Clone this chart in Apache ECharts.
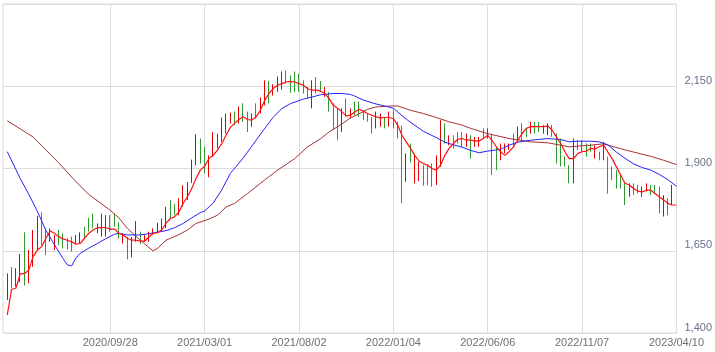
<!DOCTYPE html>
<html>
<head>
<meta charset="utf-8">
<script src="https://cdn.jsdelivr.net/npm/echarts@6/dist/echarts.min.js"></script>
<style>
  html, body { margin: 0; padding: 0; background: #fff; }
  #chart { width: 715px; height: 352px; }
</style>
</head>
<body>
<div id="chart"></div>
<script>
// weekly bars, 2020/04/13 .. 2023/04/10
const highs = [1581,1600,1597,1640,1706,1652,1713,1756,1767,1718,
  1718,1698,1713,1703,1688,1693,1698,1706,1723,1750,
  1763,1733,1763,1758,1758,1763,1736,1703,1692,1692,
  1740,1708,1698,1708,1718,1735,1748,1783,1804,1792,
  1809,1849,1859,1927,2004,1991,1966,1940,2011,2006,
  2055,2067,2070,2073,2088,2098,2073,2067,2098,2116,
  2168,2166,2156,2180,2195,2198,2183,2195,2188,2168,
  2148,2168,2178,2166,2148,2133,2098,2083,2083,2113,
  2083,2103,2103,2077,2067,2057,2073,2067,2057,2073,
  2077,2042,2030,1946,1976,1943,1920,1910,1912,1915,
  1940,2047,2037,2001,2001,2011,2011,2006,2001,1996,
  1996,2022,2022,2006,1966,1976,1976,1976,2006,2027,
  2037,2022,2042,2042,2042,2032,2037,2032,2006,1991,
  1936,1910,1991,1986,1986,1976,1976,1971,1951,1981,
  1936,1906,1895,1880,1855,1855,1855,1850,1845,1855,
  1850,1850,1845,1819,1809,1850,1824];

const lows = [1500,1536,1541,1554,1544,1551,1601,1652,1667,1637,
  1677,1652,1667,1657,1654,1647,1672,1672,1688,1708,
  1718,1703,1693,1693,1708,1723,1688,1672,1624,1630,
  1677,1670,1677,1677,1698,1703,1708,1718,1748,1758,
  1758,1784,1804,1856,1910,1915,1885,1873,1935,1961,
  1981,2006,2037,2032,2037,2042,2011,2027,2052,2067,
  2092,2098,2122,2133,2140,2158,2130,2133,2133,2128,
  2113,2083,2128,2133,2118,2073,2017,1986,2011,2057,
  2052,2062,2057,2047,2042,2006,2022,2027,2022,2027,
  2022,1991,1795,1860,1918,1855,1862,1848,1850,1845,
  1850,1905,1976,1971,1961,1976,1966,1966,1930,1966,
  1966,1991,1991,1880,1895,1925,1946,1956,1966,1981,
  1986,1996,2006,2006,2011,2006,2001,1996,1915,1906,
  1906,1855,1855,1956,1951,1936,1951,1930,1925,1925,
  1824,1865,1839,1839,1789,1814,1819,1824,1814,1830,
  1819,1824,1764,1754,1758,1789,1789];

// 1 = up week (red), 0 = down week (green)
const ups = [1,0,1,1,0,1,1,1,0,0,
  1,1,0,0,0,0,1,1,0,0,
  0,1,1,1,0,0,0,1,0,1,
  1,0,1,1,1,1,1,1,0,0,
  1,1,1,1,1,0,0,1,1,1,
  1,1,1,0,1,0,0,1,0,1,
  1,0,1,1,1,0,0,0,0,0,
  0,1,0,0,1,0,0,0,1,0,
  1,0,0,0,0,0,1,1,0,1,
  0,0,0,1,0,1,1,0,0,0,
  1,1,0,1,0,0,0,1,0,1,
  1,0,1,0,0,1,1,1,0,1,
  0,0,1,0,0,1,1,0,0,0,
  0,0,1,0,0,0,0,1,0,1,
  0,0,0,0,0,1,0,0,1,1,
  0,0,0,1,0,1,1];

// short moving average (red), one value per week
const maShort = [1455,1533,1536,1579,1581,1591,1632,1652,1662,1688,
  1710,1703,1693,1686,1682,1677,1670,1672,1688,1703,
  1713,1720,1720,1720,1716,1716,1703,1698,1688,1682,
  1682,1679,1679,1692,1703,1705,1713,1733,1748,1753,
  1768,1794,1814,1839,1870,1895,1907,1930,1940,1956,
  1976,2001,2025,2037,2049,2057,2049,2047,2057,2077,
  2107,2128,2143,2153,2158,2163,2165,2163,2158,2153,
  2143,2138,2138,2135,2128,2113,2092,2083,2072,2060,
  2062,2072,2080,2074,2067,2062,2057,2054,2055,2055,
  2052,2032,2001,1981,1961,1940,1922,1915,1910,1900,
  1895,1910,1940,1961,1976,1989,1991,1986,1986,1984,
  1984,1991,2001,1986,1966,1951,1940,1951,1966,1986,
  2006,2022,2027,2027,2027,2027,2029,2017,1996,1976,
  1951,1930,1930,1946,1951,1953,1961,1959,1966,1971,
  1950,1930,1905,1880,1855,1850,1839,1831,1829,1834,
  1834,1824,1814,1804,1794,1789,1789];

// medium moving average (blue), read at [week index, value]
const maMid = [[0,1951],[3,1870],[5,1822],[7,1770],[9,1712],[11,1668],[13,1626],[14,1607],
  [15,1604],[16,1628],[17,1642],[19,1658],[21,1672],[23,1687],[25,1700],[26,1703],[28,1698],
  [31,1698],[34,1704],[37,1711],[39,1720],[41,1733],[43,1750],[45,1766],[46,1771],[48,1795],
  [50,1835],[52,1885],[55,1932],[57,1968],[59,2004],[62,2056],[64,2082],[66,2097],[69,2111],
  [71,2117],[73,2124],[76,2128],[78,2128],[80,2125],[81,2120],[83,2108],[86,2096],[88,2090],
  [90,2083],[93,2050],[95,2031],[97,2013],[100,1994],[102,1980],[104,1972],[106,1965],[108,1955],
  [110,1948],[112,1953],[115,1958],[117,1971],[119,1980],[122,1986],[126,1991],[129,1988],
  [131,1981],[133,1983],[136,1983],[138,1981],[140,1972],[142,1950],[144,1931],[146,1914],
  [148,1903],[150,1895],[152,1882],[154,1866],[156,1846]];

// long moving average (dark red), read at [week index, value]
const maLong = [[0,2045],[6,1996],[12,1917],[16,1860],[19,1821],[24,1773],[26,1750],[28,1718],
  [31,1682],[33,1660],[34,1650],[35,1657],[37,1682],[40,1699],[42,1713],[44,1733],[47,1746],
  [49,1758],[51,1783],[53,1794],[56,1824],[60,1865],[63,1895],[67,1930],[70,1966],[73,1990],
  [75,2011],[78,2035],[80,2054],[82,2066],[84,2080],[86,2087],[89,2090],[91,2090],[94,2077],
  [97,2067],[100,2055],[103,2042],[106,2032],[108,2022],[112,2006],[117,1991],[122,1981],
  [126,1978],[131,1966],[136,1971],[139,1975],[143,1960],[146,1950],[150,1937],[153,1925],
  [156,1912]];

const tickLabels = ['2020/09/28','2021/03/01','2021/08/02','2022/01/04','2022/06/06','2022/11/07','2023/04/10'];
const yTicks = [1400, 1650, 1900, 2150, 2400];

// week dates (first week of trading), one spare week in front of the data
const holidayShift = { '2022/01/03': '2022/01/04' };
const pad = n => (n < 10 ? '0' : '') + n;
const dates = [];
for (let i = 0; i <= highs.length; i++) {
  const d = new Date(Date.UTC(2020, 3, 6 + i * 7));
  let s = d.getUTCFullYear() + '/' + pad(d.getUTCMonth() + 1) + '/' + pad(d.getUTCDate());
  dates.push(holidayShift[s] || s);
}

const UP = '#e60000', DOWN = '#2f9a2f';
const candles = ['-'].concat(highs.map((h, i) =>
  ups[i] ? [lows[i], h, lows[i], h] : [h, lows[i], lows[i], h]));
const shortData = ['-'].concat(maShort);
const midData = maMid.map(p => [p[0] + 1, p[1]]);
const longData = maLong.map(p => [p[0] + 1, p[1]]);

const isTick = (idx, val) => tickLabels.indexOf(val) >= 0;

const chart = echarts.init(document.getElementById('chart'));
chart.setOption({
  animation: false,
  backgroundColor: '#fff',
  grid: { left: 3, right: 37, top: 4, bottom: 19, show: true, borderColor: '#d9d9d9', borderWidth: 1 },
  xAxis: {
    type: 'category',
    data: dates,
    boundaryGap: false,
    axisLine: { show: false },
    axisTick: { show: false },
    axisLabel: { interval: isTick, color: '#707070', fontFamily: 'Liberation Sans', fontSize: 11, margin: 4 },
    splitLine: { show: true, interval: isTick, lineStyle: { color: '#dcdcdc', width: 1 } }
  },
  yAxis: {
    type: 'value',
    position: 'right',
    min: yTicks[0],
    max: yTicks[yTicks.length - 1],
    interval: yTicks[1] - yTicks[0],
    axisLine: { show: false },
    axisTick: { show: false },
    axisLabel: {
      showMaxLabel: false,
      color: '#66708a',
      fontFamily: 'Liberation Sans',
      fontSize: 11,
      margin: 8,
      verticalAlign: 'bottom',
      formatter: v => v.toLocaleString('en-US')
    },
    splitLine: { show: true, lineStyle: { color: '#dcdcdc', width: 1 } }
  },
  series: [
    {
      type: 'candlestick',
      data: candles,
      barMaxWidth: 1,
      itemStyle: { color: UP, color0: DOWN, borderColor: UP, borderColor0: DOWN, borderWidth: 1 }
    },
    {
      type: 'line', data: longData, symbol: 'none',
      lineStyle: { color: '#a83232', width: 1 }
    },
    {
      type: 'line', data: midData, symbol: 'none',
      lineStyle: { color: '#2424ff', width: 1 }
    },
    {
      type: 'line', data: shortData, symbol: 'none',
      lineStyle: { color: '#ff1010', width: 1.2 }
    }
  ]
});
</script>
</body>
</html>
